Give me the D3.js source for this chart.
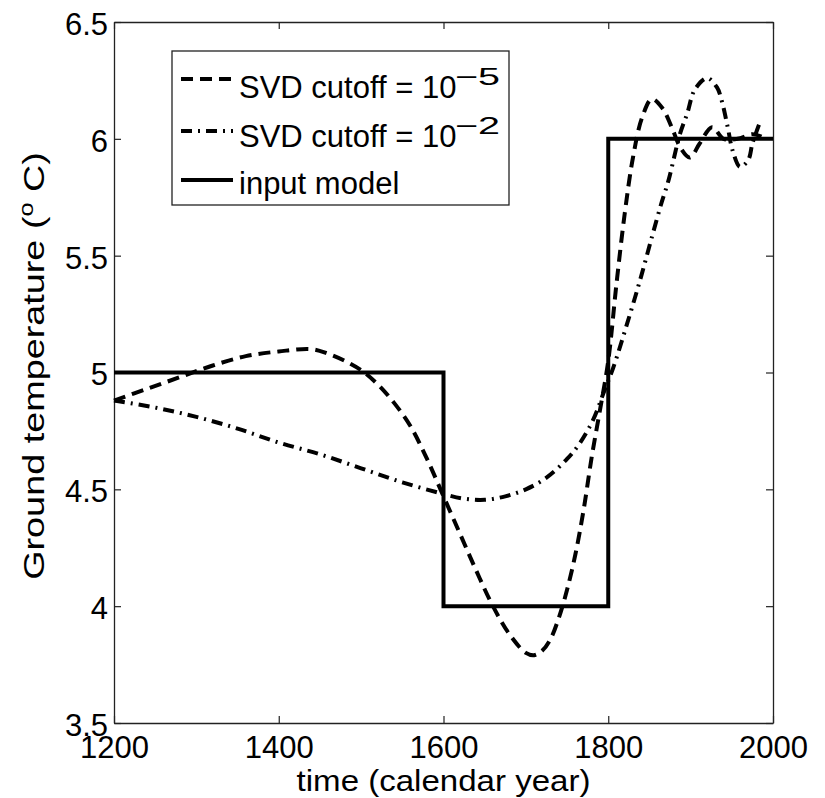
<!DOCTYPE html>
<html>
<head>
<meta charset="utf-8">
<script src="https://cdn.jsdelivr.net/npm/d3@7"></script>
<style>
  body { margin: 0; background: #fff; }
  text { font-family: "Liberation Sans", Arial, Helvetica, sans-serif; fill: #000; }
</style>
</head>
<body>
<div id="chart"></div>
<script>
// tick labels
var xTicks = [1200, 1400, 1600, 1800, 2000];
var yTicks = [3.5, 4, 4.5, 5, 5.5, 6, 6.5];

// SVD cutoff = 1e-5 (dashed)
var yearsA = [1200, 1240, 1280, 1320, 1360, 1400, 1440, 1460, 1480, 1500, 1520, 1540, 1560, 1580,
  1600, 1620, 1640, 1660, 1680, 1700, 1710, 1720, 1730, 1740, 1750, 1760, 1770, 1780, 1790, 1800,
  1810, 1820, 1830, 1841, 1853, 1866, 1877, 1888, 1899, 1911, 1926, 1940, 1957, 1975, 1986];
var tempsA = [4.88, 4.93, 4.98, 5.03, 5.07, 5.09, 5.10, 5.08, 5.05, 5.01, 4.95, 4.87, 4.77, 4.63,
  4.47, 4.31, 4.15, 4.00, 3.88, 3.80, 3.79, 3.81, 3.86, 3.95, 4.07, 4.22, 4.41, 4.64, 4.84, 5.05,
  5.38, 5.68, 5.92, 6.09, 6.17, 6.13, 6.05, 5.96, 5.92, 5.98, 6.05, 6.00, 6.00, 6.02, 6.01];

// SVD cutoff = 1e-2 (dash-dot)
var yearsB = [1200, 1250, 1300, 1350, 1400, 1450, 1500, 1550, 1600, 1625, 1650, 1675, 1700, 1725,
  1750, 1766, 1782, 1794, 1806, 1823, 1839, 1853, 1865, 1873, 1887, 1896, 1905, 1920, 1932, 1938,
  1945, 1951, 1960, 1970, 1975, 1983];
var tempsB = [4.88, 4.85, 4.81, 4.76, 4.70, 4.65, 4.59, 4.53, 4.48, 4.46, 4.455, 4.47, 4.50, 4.55,
  4.63, 4.70, 4.80, 4.91, 5.02, 5.21, 5.40, 5.58, 5.73, 5.82, 6.02, 6.11, 6.21, 6.26, 6.22, 6.16,
  6.05, 5.95, 5.88, 5.91, 5.98, 6.06];

// input model (step)
var modelYears = [1200, 1600, 1800, 2000];
var modelTemps = [5, 4, 6, 6];

var width = 825, height = 798;
var margin = {left: 114, right: 52, top: 22, bottom: 75};

var svg = d3.select('#chart').append('svg')
    .attr('width', width).attr('height', height);

var x = d3.scaleLinear().domain([1200, 2000]).range([margin.left, width - margin.right]);
var y = d3.scaleLinear().domain([3.5, 6.5]).range([height - margin.bottom, margin.top]);

function styleAxis(g) {
  g.select('.domain').attr('stroke', '#222').attr('stroke-width', 1.3);
  g.selectAll('.tick line').attr('stroke', '#222').attr('stroke-width', 1.2);
  g.selectAll('.tick text').style('font-size', '31px').attr('fill', '#000');
}

// axes, ticks inside on all four sides
svg.append('g')
    .attr('transform', 'translate(0,' + y(3.5) + ')')
    .call(d3.axisBottom(x).tickValues(xTicks).tickFormat(d3.format('d'))
      .tickSizeInner(-7).tickSizeOuter(0).tickPadding(13))
    .call(styleAxis);
svg.append('g')
    .attr('transform', 'translate(0,' + y(6.5) + ')')
    .call(d3.axisTop(x).tickValues(xTicks).tickFormat('')
      .tickSizeInner(-7).tickSizeOuter(0))
    .call(styleAxis);
svg.append('g')
    .attr('transform', 'translate(' + x(1200) + ',0)')
    .call(d3.axisLeft(y).tickValues(yTicks).tickFormat(d3.format(''))
      .tickSizeInner(-7).tickSizeOuter(0).tickPadding(6))
    .call(styleAxis)
    .selectAll('.tick text').attr('dy', '0.4em');
svg.append('g')
    .attr('transform', 'translate(' + x(2000) + ',0)')
    .call(d3.axisRight(y).tickValues(yTicks).tickFormat('')
      .tickSizeInner(-7).tickSizeOuter(0))
    .call(styleAxis);

// axis titles
svg.append('text')
    .attr('transform', 'translate(' + (x(1200) + x(2000)) / 2 + ',791) scale(1.14,1)')
    .attr('text-anchor', 'middle')
    .style('font-size', '29px')
    .text('time (calendar year)');

var yTitle = svg.append('text')
    .attr('transform', 'translate(44,366) scale(1,1.26) rotate(-90)')
    .attr('text-anchor', 'middle')
    .style('font-size', '30px');
yTitle.append('tspan').text('Ground temperature (');
yTitle.append('tspan').attr('dy', -11).style('font-size', '20px').text('o');
yTitle.append('tspan').attr('dy', 11).text(' C)');

// series
var line = d3.line()
    .x(function(d) { return x(d[0]); })
    .y(function(d) { return y(d[1]); })
    .curve(d3.curveCatmullRom.alpha(0.5));

var stepLine = d3.line()
    .x(function(d) { return x(d[0]); })
    .y(function(d) { return y(d[1]); })
    .curve(d3.curveStepAfter);

var dashA = '12,7', dashB = '11,6,2,6';

svg.append('path')
    .datum(d3.zip(modelYears, modelTemps))
    .attr('d', stepLine)
    .attr('fill', 'none').attr('stroke', '#000').attr('stroke-width', 4);

svg.append('path')
    .datum(d3.zip(yearsB, tempsB))
    .attr('d', line)
    .attr('fill', 'none').attr('stroke', '#000').attr('stroke-width', 4)
    .attr('stroke-dasharray', dashB);

svg.append('path')
    .datum(d3.zip(yearsA, tempsA))
    .attr('d', line)
    .attr('fill', 'none').attr('stroke', '#000').attr('stroke-width', 4)
    .attr('stroke-dasharray', dashA);

// legend
var legend = svg.append('g').attr('transform', 'translate(172,51)');
legend.append('rect')
    .attr('width', 337).attr('height', 154)
    .attr('fill', '#fff').attr('stroke', '#222').attr('stroke-width', 1.3);

var entries = [
  {dash: dashA, label: 'SVD cutoff = 10', sup: '\u22125', ly: 28, ty: 47},
  {dash: dashB, label: 'SVD cutoff = 10', sup: '\u22122', ly: 80, ty: 96},
  {dash: null, label: 'input model', sup: null, ly: 129, ty: 143}
];

entries.forEach(function(e) {
  legend.append('line')
      .attr('x1', 9).attr('x2', 61).attr('y1', e.ly).attr('y2', e.ly)
      .attr('stroke', '#000').attr('stroke-width', 4)
      .attr('stroke-dasharray', e.dash);
  legend.append('text')
      .attr('x', 67).attr('y', e.ty)
      .style('font-size', '31px')
      .text(e.label);
  if (e.sup) {
    legend.append('text')
        .attr('x', 283).attr('y', e.ty - 13)
        .attr('textLength', 45).attr('lengthAdjust', 'spacingAndGlyphs')
        .style('font-size', '24px')
        .text(e.sup);
  }
});
</script>
</body>
</html>
